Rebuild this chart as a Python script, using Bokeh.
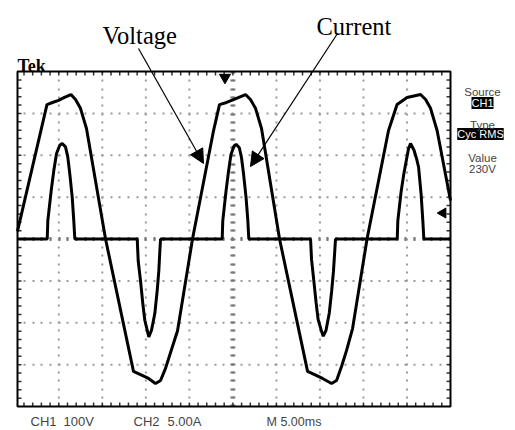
from math import pi
from bokeh.plotting import figure
from bokeh.models import Range1d, Label, Arrow, NormalHead
from bokeh.embed import file_html
from bokeh.resources import INLINE

# ---------------- data ----------------
# time in ms (M 5.00ms/div), voltage in V (CH1 100V/div)
volt_t_ms = [0.25, 3.64, 4.28, 4.97, 5.65, 6.40, 6.92, 7.49, 8.18, 10.37,
             13.58, 14.39, 15.31, 16.11, 16.69, 17.26, 17.84, 18.64, 20.36,
             22.78, 23.46, 24.27, 25.07, 26.45, 27.02, 27.60, 28.29, 30.36,
             33.58, 34.39, 35.30, 36.34, 36.91, 37.49, 38.06, 38.75, 40.41,
             42.88, 43.86, 45.01, 46.56, 47.14, 47.71, 48.46, 50.0]
volt_v = [18, 321, 326, 331, 338, 345, 333, 312, 264, 0,
          -316, -324, -333, -345, -338, -309, -271, -219, 0,
          259, 321, 326, 333, 345, 333, 312, 264, 0,
          -316, -324, -333, -345, -338, -304, -266, -214, 0,
          259, 321, 338, 345, 333, 312, 259, 92]

# current in A (CH2 5.00A/div)
curr_t_ms = [0.25,
             3.67, 3.74, 4.13, 4.43, 4.74, 5.11, 5.39, 5.77, 6.03, 6.26, 6.54, 6.72, 6.84,
             14.01, 14.12, 14.39, 14.65, 14.88, 15.16, 15.34, 15.65, 16.03, 16.31, 16.49, 16.61, 16.69,
             23.77, 23.84, 24.21, 24.50, 24.78, 25.13, 25.38, 25.74, 25.99, 26.22, 26.51, 26.71, 26.83,
             33.92, 34.04, 34.30, 34.56, 34.79, 35.12, 35.38, 35.70, 36.08, 36.35, 36.55, 36.70, 36.79,
             43.88, 43.95, 44.32, 44.61, 44.89, 45.18, 45.41, 45.81, 46.10, 46.33, 46.62, 46.82, 46.94,
             50.0]
curr_a = [0,
          0, 2.2, 5.8, 8.2, 10.2, 11.2, 11.4, 11.0, 9.8, 7.8, 5.0, 2.2, 0,
          0, -2.6, -5.0, -7.7, -9.7, -10.9, -11.7, -10.9, -8.9, -6.1, -3.8, -1.4, 0,
          0, 2.2, 5.7, 8.1, 10.1, 11.1, 11.3, 10.9, 9.7, 7.8, 5.0, 2.3, 0,
          0, -2.5, -5.0, -7.6, -9.6, -10.8, -11.6, -10.9, -8.8, -6.2, -3.9, -1.5, 0,
          0, 2.2, 5.6, 7.6, 9.2, 10.8, 11.4, 10.6, 9.6, 8.6, 5.4, 2.2, 0,
          0]

trigger_time_ms = 24.09
trigger_level_v = 62

# graticule: 10 x 8 divisions (5 ms/div, 100 V/div), minor marks at 1/5 div
grid_t_ms = [5, 10, 15, 20, 25, 30, 35, 40, 45]
grid_v = [-300, -200, -100, 0, 100, 200, 300]
minor_t_ms = list(range(1, 50))
minor_v = list(range(-380, 400, 20))
center_t_ms = 25
center_v = 0

bottom_labels = ["CH1", "100V", "CH2", "5.00A", "M 5.00ms"]
panel_labels = ["Source", "CH1", "Type", "Cyc RMS", "Value", "230V"]

# ---------------- layout ----------------
W, H = 515, 430
T_START, T_END = 0.255, 50.0         # visible scope time window
V_MIN, V_MAX = -400, 400             # 8 divisions of 100 V
SCOPE_L, SCOPE_R, SCOPE_T, SCOPE_B = 17, 450, 71, 406   # scope screen, px
PX_PER_MS = (SCOPE_R - SCOPE_L) / (T_END - T_START)
PX_PER_V = (SCOPE_B - SCOPE_T) / (V_MAX - V_MIN)
X_START = T_START - SCOPE_L / PX_PER_MS
X_END = X_START + W / PX_PER_MS
Y_TOP = V_MAX + SCOPE_T / PX_PER_V
Y_BOTTOM = Y_TOP - H / PX_PER_V
V_PER_A = 20                          # 100 V/div  <->  5 A/div

DASH_V = "2 6 2 6 2 7"   # dots every ~8.4 px (1/5 vertical division)
DASH_H = "2 7 2 7 2 6"   # dots every ~8.7 px (1/5 horizontal division)
TICK_T = 4 / PX_PER_MS
TICK_V = 4 / PX_PER_V


def ax(px):  # image pixel -> time (annotation placement)
    return X_START + px / PX_PER_MS


def ay(py):  # image pixel -> volts (annotation placement)
    return Y_TOP - py / PX_PER_V


p = figure(width=W, height=H, output_backend="svg", toolbar_location=None,
           x_range=Range1d(X_START, X_END), y_range=Range1d(Y_BOTTOM, Y_TOP),
           x_axis_location=None, y_axis_location=None, min_border=0)
p.extra_y_ranges = {"amps": Range1d(Y_BOTTOM / V_PER_A, Y_TOP / V_PER_A)}
p.background_fill_color = "white"
p.border_fill_color = "white"
p.outline_line_color = None
p.xgrid.visible = False
p.ygrid.visible = False

# graticule
p.segment(x0=grid_t_ms, y0=[V_MIN] * len(grid_t_ms), x1=grid_t_ms,
          y1=[V_MAX] * len(grid_t_ms), line_color="#999999", line_width=2,
          line_dash=DASH_V)
p.segment(x0=[T_START] * len(grid_v), y0=grid_v, x1=[T_END] * len(grid_v),
          y1=grid_v, line_color="#999999", line_width=2, line_dash=DASH_H,
          line_dash_offset=3)
p.segment(x0=[center_t_ms], y0=[V_MIN], x1=[center_t_ms], y1=[V_MAX],
          line_color="#777777", line_width=5, line_dash=DASH_V)
p.segment(x0=[T_START], y0=[center_v], x1=[T_END], y1=[center_v],
          line_color="#777777", line_width=4, line_dash=DASH_H,
          line_dash_offset=3)
# minor marks on the four edges
n_t, n_v = len(minor_t_ms), len(minor_v)
p.segment(x0=minor_t_ms, y0=[V_MIN] * n_t, x1=minor_t_ms,
          y1=[V_MIN + TICK_V] * n_t, line_color="#333333", line_width=1.5)
p.segment(x0=minor_t_ms, y0=[V_MAX] * n_t, x1=minor_t_ms,
          y1=[V_MAX - TICK_V] * n_t, line_color="#333333", line_width=1.5)
p.segment(x0=[T_START] * n_v, y0=minor_v, x1=[T_START + TICK_T] * n_v,
          y1=minor_v, line_color="#333333", line_width=1.5)
p.segment(x0=[T_END] * n_v, y0=minor_v, x1=[T_END - TICK_T] * n_v,
          y1=minor_v, line_color="#333333", line_width=1.5)

# traces
p.line(volt_t_ms, volt_v, line_color="black", line_width=3)
p.line(curr_t_ms, curr_a, line_color="black", line_width=3, y_range_name="amps")

# screen border
p.quad(left=[T_START], right=[T_END], bottom=[V_MIN], top=[V_MAX],
       fill_color=None, line_color="black", line_width=2)

# trigger markers
p.scatter([trigger_time_ms], [ay(77)], marker="inverted_triangle", size=11,
          color="black")
p.scatter([ax(442.5)], [trigger_level_v], marker="triangle", angle=pi / 2,
          size=10, color="black")

# annotations
SERIF = "Liberation Serif"
SANS = "Liberation Sans"
p.add_layout(Label(x=ax(102), y=ay(35), text="Voltage", text_font=SERIF,
                   text_font_size="24.5px", text_align="left",
                   text_baseline="alphabetic", text_color="black"))
p.add_layout(Label(x=ax(316), y=ay(26), text="Current", text_font=SERIF,
                   text_font_size="24.5px", text_align="left",
                   text_baseline="alphabetic", text_color="black"))
p.add_layout(Label(x=ax(17), y=ay(65), text="Tek", text_font=SERIF,
                   text_font_size="18px", text_font_style="bold",
                   text_align="left", text_baseline="alphabetic",
                   text_color="black"))

p.add_layout(Arrow(end=NormalHead(size=14, fill_color="black", line_color="black"),
                   x_start=ax(138), y_start=ay(48), x_end=ax(203), y_end=ay(163),
                   line_width=1.2, line_color="black"))
p.add_layout(Arrow(end=NormalHead(size=14, fill_color="black", line_color="black"),
                   x_start=ax(337), y_start=ay(33), x_end=ax(250), y_end=ay(166),
                   line_width=1.2, line_color="black"))

# right-hand measurement panel (highlighted boxes first, plain text on top)
cx = ax(482)
p.add_layout(Label(x=cx, y=ay(102.5), text=panel_labels[1], text_font=SANS,
                   text_font_size="11px", text_align="center",
                   text_baseline="middle", text_color="white",
                   background_fill_color="black", padding=0))
p.add_layout(Label(x=ax(480), y=ay(133.5), text=panel_labels[3], text_font=SANS,
                   text_font_size="11px", text_align="center",
                   text_baseline="middle", text_color="white",
                   background_fill_color="black", padding=0))
p.add_layout(Label(x=cx, y=ay(91), text=panel_labels[0], text_font=SANS,
                   text_font_size="11.5px", text_align="center",
                   text_baseline="alphabetic"))
p.add_layout(Label(x=cx, y=ay(124), text=panel_labels[2], text_font=SANS,
                   text_font_size="11.5px", text_align="center",
                   text_baseline="alphabetic"))
p.add_layout(Label(x=cx, y=ay(157), text=panel_labels[4], text_font=SANS,
                   text_font_size="11.5px", text_align="center",
                   text_baseline="alphabetic"))
p.add_layout(Label(x=cx, y=ay(168), text=panel_labels[5], text_font=SANS,
                   text_font_size="11.5px", text_align="center",
                   text_baseline="alphabetic"))

# bottom readout
for txt, px, fs in zip(bottom_labels, [30, 63, 133, 167, 266],
                       ["13px", "13px", "13px", "13px", "12.5px"]):
    p.add_layout(Label(x=ax(px), y=ay(421), text=txt, text_font=SANS,
                       text_font_size=fs, text_align="left",
                       text_baseline="alphabetic"))

open("out.html", "w").write(file_html(p, INLINE))
